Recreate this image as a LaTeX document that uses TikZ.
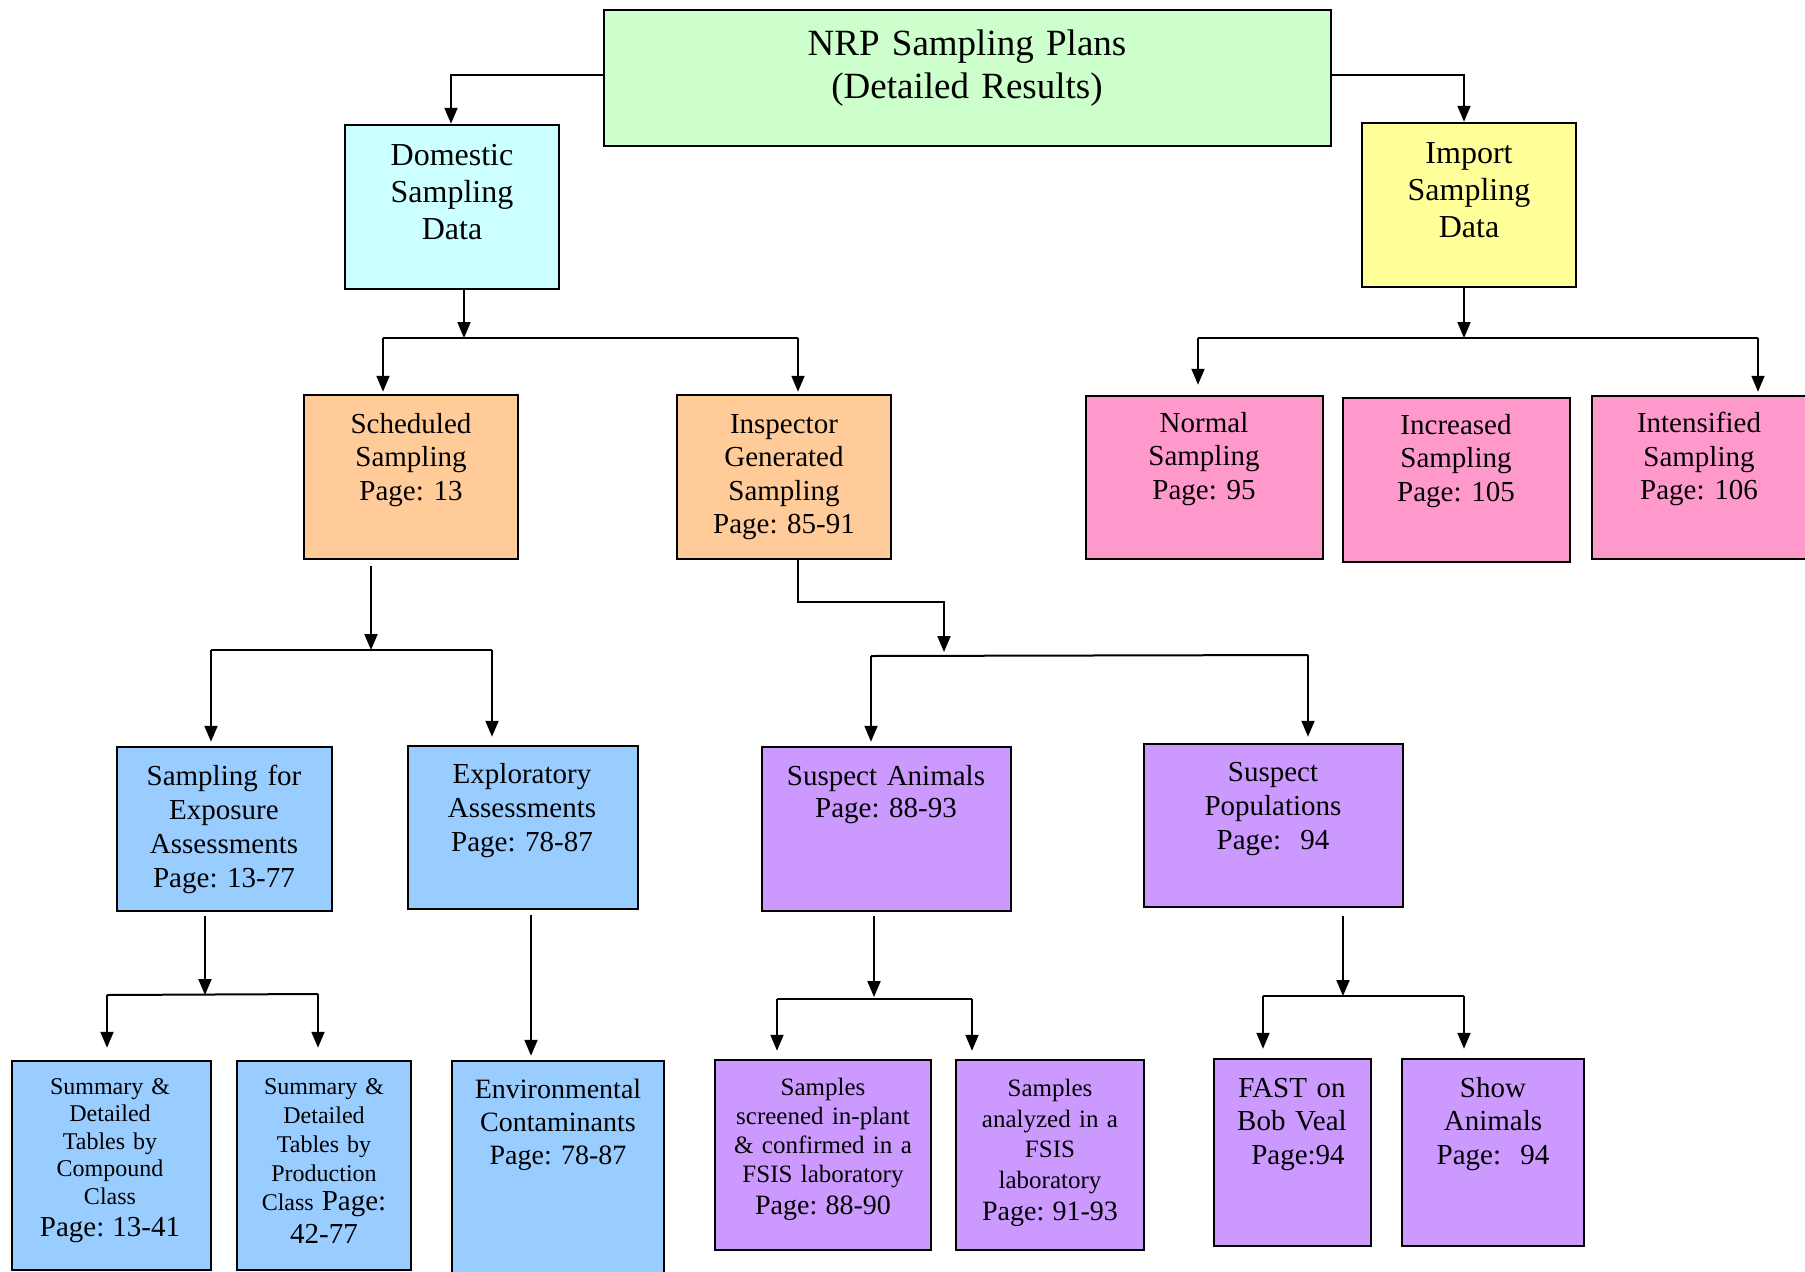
\documentclass[tikz,border=0pt]{standalone}
\usepackage{fontspec}
\setmainfont{Liberation Serif}
\usetikzlibrary{arrows.meta}
\definecolor{cgreen}{HTML}{CCFFCC}
\definecolor{ccyan}{HTML}{CCFFFF}
\definecolor{cyellow}{HTML}{FFFF99}
\definecolor{corange}{HTML}{FFCC99}
\definecolor{cpink}{HTML}{FF99CC}
\definecolor{cblue}{HTML}{99CCFF}
\definecolor{cpurple}{HTML}{CC99FF}
\frenchspacing
\tikzset{
  box/.style={draw=black, line width=2.5pt, inner sep=0pt},
  txt/.style={align=center, inner sep=0pt, anchor=north, text width=260pt, font=\fontsize{29}{33.5}\selectfont},
  ln/.style={line width=2pt},
  arr/.style={line width=2pt, -{Triangle[length=16pt,width=13pt]}},
}
\newcommand\mybox[6]{%
  \node[box, fill=#6, minimum width={#4-#2}, minimum height={#5-#3}] (#1) at ({(#2+#4)/2},{(#3+#5)/2}) {};}
\begin{document}
\begin{tikzpicture}[x=1pt,y=-1pt]
\clip (0,0) rectangle (1805,1272);
\fill[white] (0,0) rectangle (1805,1272);
% boxes
\mybox{nrp}{604}{10}{1331}{146}{cgreen}
\mybox{dom}{345}{125}{559}{289}{ccyan}
\mybox{imp}{1362}{123}{1576}{287}{cyellow}
\mybox{sch}{304}{395}{518}{559}{corange}
\mybox{insp}{677}{395}{891}{559}{corange}
\mybox{nor}{1086}{396}{1323}{559}{cpink}
\mybox{inc}{1343}{398}{1570}{562}{cpink}
\mybox{ints}{1592}{396}{1830}{559}{cpink}
\mybox{expo}{117}{747}{332}{911}{cblue}
\mybox{expl}{408}{746}{638}{909}{cblue}
\mybox{sani}{762}{747}{1011}{911}{cpurple}
\mybox{spop}{1144}{744}{1403}{907}{cpurple}
\mybox{sum1}{12}{1061}{211}{1270}{cblue}
\mybox{sum2}{237}{1061}{411}{1270}{cblue}
\mybox{env}{452}{1061}{664}{1295}{cblue}
\mybox{scr}{715}{1060}{931}{1250}{cpurple}
\mybox{ana}{956}{1060}{1144}{1250}{cpurple}
\mybox{fast}{1214}{1059}{1371}{1246}{cpurple}
\mybox{show}{1402}{1059}{1584}{1246}{cpurple}
% texts
\node[txt, text width=600pt, font=\fontsize{37}{42.6}\selectfont] (nrpt) at (967,30) {NRP Sampling Plans\\(Detailed Results)};
\node[txt, font=\fontsize{32}{37}\selectfont] (domt) at (452,144) {Domestic\\Sampling\\Data};
\node[txt, font=\fontsize{32}{37}\selectfont] (impt) at (1469,142) {Import\\Sampling\\Data};
\node[txt] (scht) at (411,413) {Scheduled\\Sampling\\Page: 13};
\node[txt] (inspt) at (784,414) {Inspector\\Generated\\Sampling\\Page: 85-91};
\node[txt] (nort) at (1204,412) {Normal\\Sampling\\Page: 95};
\node[txt] (inct) at (1456,414) {Increased\\Sampling\\Page: 105};
\node[txt] (intst) at (1699,412) {Intensified\\Sampling\\Page: 106};
\node[txt, font=\fontsize{29}{34}\selectfont] (expot) at (224,765) {Sampling for\\Exposure\\Assessments\\Page: 13-77};
\node[txt, font=\fontsize{29}{34}\selectfont] (explt) at (522,763) {Exploratory\\Assessments\\Page: 78-87};
\node[txt, font=\fontsize{29}{32.5}\selectfont] (sanit) at (886,765) {Suspect Animals\\Page: 88-93};
\node[txt, font=\fontsize{29}{34}\selectfont] (spopt) at (1273,762) {Suspect\\Populations\\Page:~~94};
\node[txt, font=\fontsize{24}{27.6}\selectfont] (sum1t) at (110,1078) {Summary \&\\Detailed\\Tables by\\Compound\\Class\par\fontsize{29}{31.5}\selectfont Page: 13-41\par};
\node[txt, font=\fontsize{24}{29}\selectfont] (sum2t) at (324,1078) {Summary \&\\Detailed\\Tables by\\Production\\Class {\fontsize{29}{31}\selectfont Page:}\par\fontsize{29}{33}\selectfont 42-77\par};
\node[txt, font=\fontsize{28}{33}\selectfont] (envt) at (558,1079) {Environmental\\Contaminants\\Page: 78-87};
\node[txt, font=\fontsize{25}{29}\selectfont] (scrt) at (823,1078) {Samples\\screened in-plant\\\& confirmed in a\\FSIS laboratory\par\fontsize{28}{32}\selectfont Page: 88-90\par};
\node[txt, font=\fontsize{25}{30.5}\selectfont] (anat) at (1050,1079) {Samples\\analyzed in a\\FSIS\\laboratory\par\fontsize{28}{32.5}\selectfont Page: 91-93\par};
\node[txt] (fastt) at (1292,1078) {FAST on\\Bob Veal\\\hspace*{12pt}Page:94};
\node[txt] (showt) at (1493,1077) {Show\\Animals\\Page:~~94};
% connectors
\coordinate (a1) at (451,75);
\coordinate (a2) at (1464,75);
\draw[arr] (nrp.west |- a1) -| (a1 |- dom.north);
\draw[arr] (nrp.east |- a2) -| (a2 |- imp.north);
% domestic
\coordinate (jd) at (464,338);
\coordinate (jdl) at (383,338);
\coordinate (jdr) at (798,338);
\draw[arr] (dom.south -| jd) -- (jd);
\draw[ln] (jdl) -- (jdr);
\draw[arr, shorten >=2pt] (jdl) -- (jdl |- sch.north);
\draw[arr, shorten >=2pt] (jdr) -- (jdr |- insp.north);
% import
\coordinate (ji) at (1464,338);
\coordinate (jil) at (1198,338);
\coordinate (jir) at (1758,338);
\draw[arr] (imp.south -| ji) -- (ji);
\draw[ln] (jil) -- (jir);
\draw[arr, shorten >=10pt] (jil) -- (jil |- nor.north);
\draw[arr, shorten >=3pt] (jir) -- (jir |- ints.north);
% scheduled
\coordinate (js) at (371,650);
\coordinate (jsl) at (211,650);
\coordinate (jsr) at (492,650);
\draw[arr, shorten <=6pt] (sch.south -| js) -- (js);
\draw[ln] (jsl) -- (jsr);
\draw[arr, shorten >=4pt] (jsl) -- (jsl |- expo.north);
\draw[arr, shorten >=8pt] (jsr) -- (jsr |- expl.north);
% inspector
\coordinate (ji1) at (798,602);
\coordinate (ji2) at (944,652);
\coordinate (jgl) at (871,656);
\coordinate (jgr) at (1308,655);
\draw[arr] (insp.south -| ji1) -- (ji1) -| (ji2);
\draw[ln] (jgl) -- (jgr);
\draw[arr, shorten >=4pt] (jgl) -- (jgl |- sani.north);
\draw[arr, shorten >=6pt] (jgr) -- (jgr |- spop.north);
% exposure
\coordinate (je) at (205,995);
\coordinate (jel) at (107,995);
\coordinate (jer) at (318,994);
\draw[arr, shorten <=4pt] (expo.south -| je) -- (je);
\draw[ln] (jel) -- (jer);
\draw[arr, shorten >=12pt] (jel) -- (jel |- sum1.north);
\draw[arr, shorten >=12pt] (jer) -- (jer |- sum2.north);
% exploratory
\coordinate (jx) at (531,915);
\draw[arr, shorten >=4pt] (jx) -- (jx |- env.north);
% suspect animals
\coordinate (ja) at (874,997);
\coordinate (jal) at (777,999);
\coordinate (jar) at (972,999);
\draw[arr, shorten <=4pt] (sani.south -| ja) -- (ja);
\draw[ln] (jal) -- (jar);
\draw[arr, shorten >=8pt] (jal) -- (jal |- scr.north);
\draw[arr, shorten >=8pt] (jar) -- (jar |- ana.north);
% suspect populations
\coordinate (jp) at (1343,996);
\coordinate (jpl) at (1263,996);
\coordinate (jpr) at (1464,996);
\draw[arr, shorten <=8pt] (spop.south -| jp) -- (jp);
\draw[ln] (jpl) -- (jpr);
\draw[arr, shorten >=9pt] (jpl) -- (jpl |- fast.north);
\draw[arr, shorten >=9pt] (jpr) -- (jpr |- show.north);
\end{tikzpicture}
\end{document}
